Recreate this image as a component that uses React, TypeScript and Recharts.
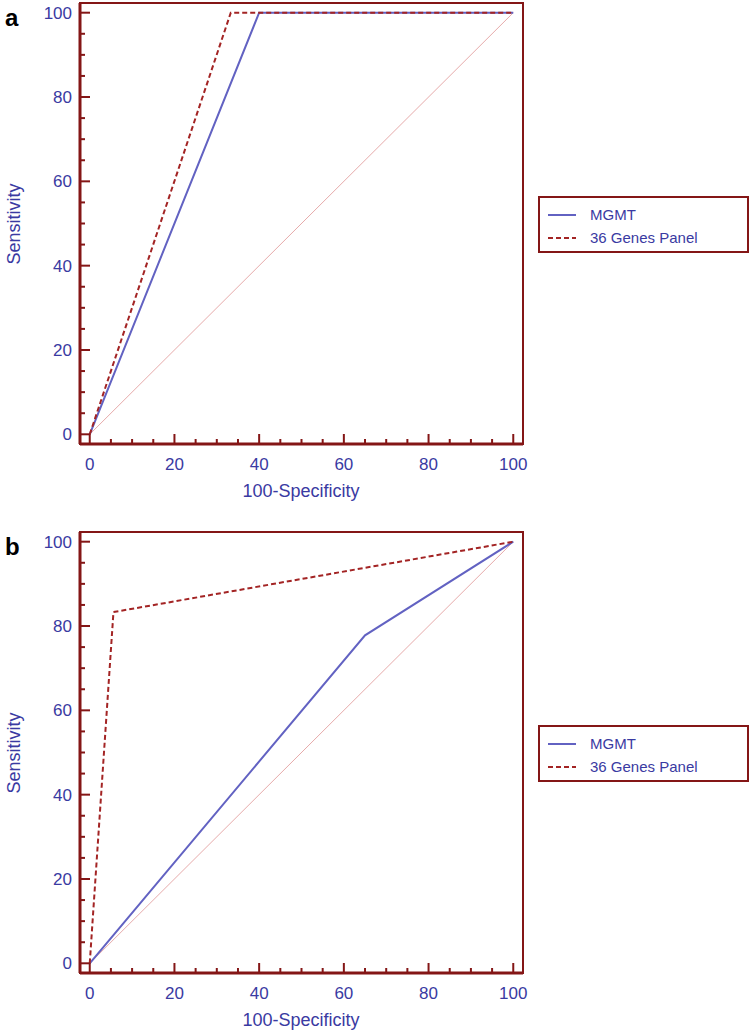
import { Legend, Line, LineChart, ReferenceArea, XAxis, YAxis } from 'recharts';

// x = 100-Specificity, y = Sensitivity
const diagonalX = [0, 100];
const diagonalY = [0, 100];

const mgmtAX = [0, 40, 100];
const mgmtAY = [0, 100, 100];
const genesAX = [0, 33.3, 100];
const genesAY = [0, 100, 100];

const mgmtBX = [0, 65, 100];
const mgmtBY = [0, 77.8, 100];
const genesBX = [0, 5.6, 100];
const genesBY = [0, 83.3, 100];

const tickValues = [0, 5, 10, 15, 20, 25, 30, 35, 40, 45, 50, 55, 60, 65, 70, 75, 80, 85, 90, 95, 100];
const seriesNames = ['MGMT', '36 Genes Panel'];

const DOMAIN: [number, number] = [-2.3, 102.3];
const AXIS = '#841616';
const TEXT = '#3a3aa2';
const MGMT_COLOR = '#6262c2';
const GENES_COLOR = '#a32424';
const FONT = '"Liberation Sans", Arial, sans-serif';

const toPoints = (xs: number[], ys: number[]) => xs.map((x, i) => ({ x, y: ys[i] }));

function XTick(props: any) {
  const { x, y, payload } = props;
  const major = payload.value % 20 === 0;
  return (
    <g>
      <line x1={x} x2={x} y1={y} y2={y - (major ? 10 : 5)} stroke={AXIS} strokeWidth={2} />
      {major && (
        <text x={x} y={y + 26} textAnchor="middle" fill={TEXT} fontSize={17} fontFamily={FONT}>
          {payload.value}
        </text>
      )}
    </g>
  );
}

function YTick(props: any) {
  const { x, y, payload } = props;
  const major = payload.value % 20 === 0;
  return (
    <g>
      <line x1={x} x2={x + (major ? 10 : 5)} y1={y} y2={y} stroke={AXIS} strokeWidth={2} />
      {major && (
        <text x={x - 8} y={y + 6} textAnchor="end" fill={TEXT} fontSize={17} fontFamily={FONT}>
          {payload.value}
        </text>
      )}
    </g>
  );
}

function LegendBox() {
  const styles = ['', '5 3'];
  const colors = [MGMT_COLOR, GENES_COLOR];
  return (
    <div style={{ border: `2px solid ${AXIS}`, width: 207, height: 53, boxSizing: 'content-box', fontFamily: FONT }}>
      {seriesNames.map((name, i) => (
        <div key={name} style={{ display: 'flex', alignItems: 'center', height: 23, marginTop: i === 0 ? 5 : 0 }}>
          <svg width={36} height={10} style={{ marginLeft: 8 }}>
            <line x1={0} x2={28} y1={5} y2={5} stroke={colors[i]} strokeWidth={2} strokeDasharray={styles[i]} />
          </svg>
          <span style={{ color: TEXT, fontSize: 15, marginLeft: 6 }}>{name}</span>
        </div>
      ))}
    </div>
  );
}

function Panel({ label, top, height, mgmt, genes }: { label: string; top: number; height: number; mgmt: any[]; genes: any[] }) {
  return (
    <div style={{ position: 'absolute', left: 0, top, width: 750, height }}>
      <LineChart width={750} height={height} margin={{ top: 3, left: 0, right: 227, bottom: height - 444 - 60 }}>
        <XAxis
          dataKey="x"
          type="number"
          domain={DOMAIN}
          ticks={tickValues}
          interval={0}
          height={60}
          tickSize={0}
          tickMargin={0}
          axisLine={{ stroke: AXIS, strokeWidth: 3 }}
          tickLine={false}
          tick={XTick}
          allowDataOverflow
          label={{
            content: () => (
              <text x={301} y={497} textAnchor="middle" fill={TEXT} fontSize={18} fontFamily={FONT}>
                100-Specificity
              </text>
            ),
          }}
        />
        <YAxis
          dataKey="y"
          type="number"
          domain={DOMAIN}
          ticks={tickValues}
          interval={0}
          width={80}
          tickSize={0}
          tickMargin={0}
          axisLine={{ stroke: AXIS, strokeWidth: 3 }}
          tickLine={false}
          tick={YTick}
          allowDataOverflow
          label={{
            content: () => (
              <text x={20} y={224} transform="rotate(-90 20 224)" textAnchor="middle" fill={TEXT} fontSize={18} fontFamily={FONT}>
                Sensitivity
              </text>
            ),
          }}
        />
        <ReferenceArea x1={DOMAIN[0]} x2={DOMAIN[1]} y1={DOMAIN[0]} y2={DOMAIN[1]} fill="none" stroke={AXIS} strokeWidth={2} ifOverflow="visible" />
        <Line data={toPoints(diagonalX, diagonalY)} dataKey="y" stroke="#e6aaaa" strokeWidth={1} dot={false} isAnimationActive={false} legendType="none" />
        <Line data={mgmt} dataKey="y" name={seriesNames[0]} stroke={MGMT_COLOR} strokeWidth={2} dot={false} isAnimationActive={false} />
        <Line data={genes} dataKey="y" name={seriesNames[1]} stroke={GENES_COLOR} strokeWidth={2} strokeDasharray="5 3" dot={false} isAnimationActive={false} />
        <Legend
          layout="horizontal"
          verticalAlign="middle"
          align="center"
          content={() => <LegendBox />}
          wrapperStyle={{ position: 'absolute', left: 538, top: 196, width: 211, height: 57 }}
        />
      </LineChart>
      <div style={{ position: 'absolute', left: 5, top: 4, fontFamily: FONT, fontWeight: 'bold', fontSize: 24, color: '#000' }}>{label}</div>
    </div>
  );
}

export default function App() {
  return (
    <div style={{ position: 'absolute', left: 0, top: 0, width: 750, height: 1033, background: '#fff' }}>
      <Panel label="a" top={0} height={529} mgmt={toPoints(mgmtAX, mgmtAY)} genes={toPoints(genesAX, genesAY)} />
      <Panel label="b" top={529} height={504} mgmt={toPoints(mgmtBX, mgmtBY)} genes={toPoints(genesBX, genesBY)} />
    </div>
  );
}
